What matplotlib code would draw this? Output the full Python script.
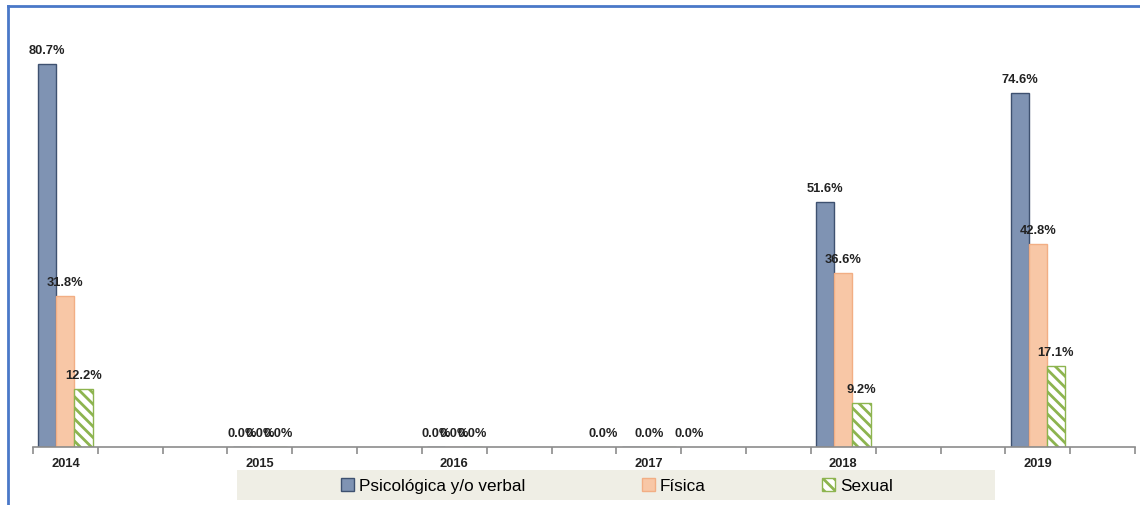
import matplotlib.pyplot as plt
import matplotlib.patches as mpatches
from matplotlib.lines import Line2D
import numpy as np

plt.rcParams['font.family'] = ['Liberation Sans', 'DejaVu Sans']
plt.rcParams['hatch.linewidth'] = 2.0

# Excel-style category axis: 17 slots, only every third carries a year
categories = ['2014', '', '', '2015', '', '', '2016', '', '',
              '2017', '', '', '2018', '', '', '2019', '']
nan = np.nan
psicologica = [80.7, nan, nan, 0.0, nan, nan, 0.0, nan, nan,
               0.0, nan, nan, 51.6, nan, nan, 74.6, nan]
fisica = [31.8, nan, nan, 0.0, nan, nan, 0.0, nan, nan,
          0.0, nan, nan, 36.6, nan, nan, 42.8, nan]
sexual = [12.2, nan, nan, 0.0, nan, nan, 0.0, nan, nan,
          0.0, nan, nan, 9.2, nan, nan, 17.1, nan]
series_names = ['Psicológica y/o verbal', 'Física', 'Sexual']

fig = plt.figure(figsize=(11.4, 5.05), dpi=100)
ax = fig.add_axes([33 / 1140, 1 - 447 / 505, (1135 - 33) / 1140, (447 - 20) / 505])

x = np.arange(len(categories))
w = 0.28
styles = [
    dict(color='#7F93B3', edgecolor='#3E5170', linewidth=1.0),
    dict(color='#F8C7A6', edgecolor='#F2AE84', linewidth=1.0),
    dict(facecolor='white', edgecolor='#8DB44F', hatch='\\\\\\', linewidth=1.0),
]
all_vals = [psicologica, fisica, sexual]
# spread of the overlapping 0.0% labels in 2017 (points)
shift_2017 = [-20, 0, 16]

for i, (vals, st) in enumerate(zip(all_vals, styles)):
    xs = x + (i - 1) * w
    ax.bar(xs, vals, width=w, **st)
    for j, v in enumerate(vals):
        if np.isnan(v):
            continue
        dx = shift_2017[i] if categories[j] == '2017' else 0
        ax.annotate(f'{v:.1f}%', (xs[j], v), xytext=(dx, 5),
                    textcoords='offset points', ha='center', va='bottom',
                    fontsize=9.3, fontweight='bold', color='#222222')

ax.set_xlim(-0.5, len(categories) - 0.5)
ax.set_ylim(0, 90)
ax.set_yticks([])
for s in ['top', 'right', 'left']:
    ax.spines[s].set_visible(False)
ax.spines['bottom'].set_color('#8C8C8C')
ax.spines['bottom'].set_linewidth(1.2)

ax.set_xticks(x)
ax.set_xticklabels(categories, fontsize=9.3, fontweight='bold', color='#222222')
ax.tick_params(axis='x', which='major', length=0, pad=8)
ax.set_xticks(np.arange(-0.5, len(categories)), minor=True)
ax.tick_params(axis='x', which='minor', length=5, color='#8C8C8C', width=1.2)

# legend band
fig.patches.append(mpatches.Rectangle((237 / 1140, 1 - 500 / 505), 758 / 1140, 30 / 505,
                                      transform=fig.transFigure, facecolor='#EFEEE5',
                                      edgecolor='none', zorder=0))
handles = [mpatches.Patch(facecolor='#7F93B3', edgecolor='#3E5170', label=series_names[0]),
           mpatches.Patch(facecolor='#F8C7A6', edgecolor='#F2AE84', label=series_names[1]),
           mpatches.Patch(facecolor='white', edgecolor='#8DB44F', hatch='\\\\\\', label=series_names[2])]
fig.legend(handles=handles, loc='center', bbox_to_anchor=(617 / 1140, 1 - 486 / 505),
           ncol=3, frameon=False, fontsize=12.3, handlelength=0.75, handleheight=0.75,
           handletextpad=0.3, columnspacing=6.8, borderpad=0)

# blue frame on top and left
fig.add_artist(Line2D([8 / 1140, 1], [1 - 6 / 505, 1 - 6 / 505], transform=fig.transFigure,
                      color='#4A78C8', linewidth=2))
fig.add_artist(Line2D([8 / 1140, 8 / 1140], [0, 1 - 6 / 505], transform=fig.transFigure,
                      color='#4A78C8', linewidth=2))

fig.savefig('out.png', dpi=100)
